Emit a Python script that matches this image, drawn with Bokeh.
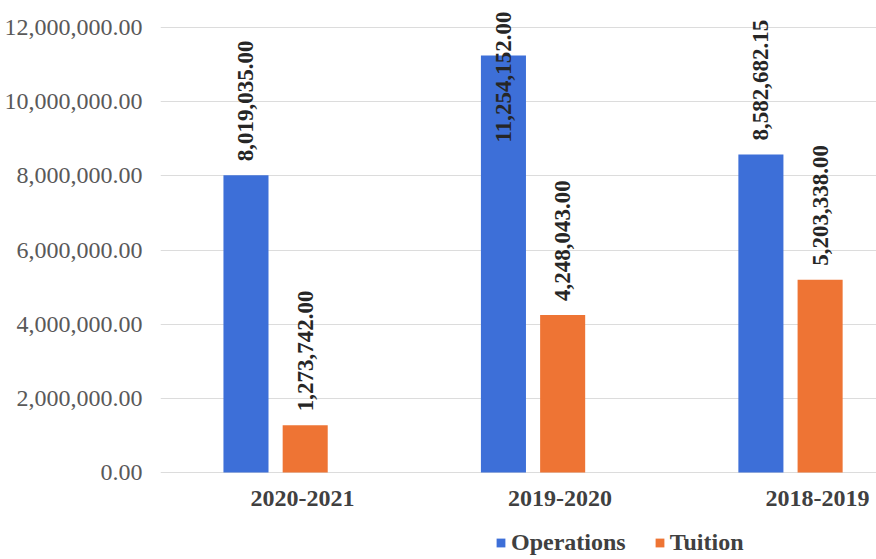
import math
from bokeh.plotting import figure
from bokeh.models import ColumnDataSource, FixedTicker, Legend, LegendItem, NumeralTickFormatter
from bokeh.core.properties import value
from bokeh.embed import file_html
from bokeh.resources import INLINE

categories = ["2020-2021", "2019-2020", "2018-2019"]
operations = [8019035.00, 11254152.00, 8582682.15]
tuition = [1273742.00, 4248043.00, 5203338.00]
series_names = ["Operations", "Tuition"]
colors = ["#3D6FD8", "#EE7434"]
y_ticks = [0, 2000000, 4000000, 6000000, 8000000, 10000000, 12000000]

W, H = 876, 559
top_b, left_b = 5, 160
base_px = 472            # screen y of the zero line
y_end = 12600000
above_h = base_px - top_b
px_per_unit = above_h / y_end
y_start = -(H - base_px) / px_per_unit
label_len_px = 132
gap_px = 14

FONT = "Liberation Serif"

p = figure(width=W, height=H, output_backend="svg", toolbar_location=None,
           x_range=(-0.447, 2.334), y_range=(y_start, y_end),
           min_border_left=left_b, min_border_right=0, min_border_top=top_b,
           min_border_bottom=0)
p.outline_line_color = None
p.background_fill_color = "white"
p.border_fill_color = "white"
p.xaxis.visible = False

idx = list(range(len(categories)))
dodge = 0.115
bw = 0.175

renderers = []
for k, (name, vals, col) in enumerate(zip(series_names, [operations, tuition], colors)):
    xs = [i + (-dodge if k == 0 else dodge) for i in idx]
    labels = ["{:,.2f}".format(v) for v in vals]
    ys, aligns, yoffs = [], [], []
    for v in vals:
        if v * px_per_unit + gap_px + label_len_px > above_h:
            ys.append(y_end); aligns.append("right"); yoffs.append(6)
        else:
            ys.append(v); aligns.append("left"); yoffs.append(-gap_px)
    src = ColumnDataSource(dict(x=xs, top=vals, ly=ys, lab=labels, al=aligns, yo=yoffs))
    r = p.vbar(x="x", top="top", bottom=0, width=bw, source=src, fill_color=col, line_color=None)
    renderers.append(r)
    p.text(x="x", y="ly", text="lab", source=src, angle=math.pi / 2,
           text_align="al", text_baseline="middle", y_offset="yo", x_offset=0,
           text_font=value(FONT), text_font_style="bold", text_font_size="23px",
           text_color="#262626")

# category labels under the groups
cat_src = ColumnDataSource(dict(x=[i + 0.105 for i in idx], y=[0] * len(idx), t=categories))
p.text(x="x", y="y", text="t", source=cat_src, y_offset=26,
       text_align="center", text_baseline="middle",
       text_font=value(FONT), text_font_style="bold", text_font_size="24px",
       text_color="#404040")

# y axis
p.yaxis.ticker = FixedTicker(ticks=y_ticks)
p.yaxis.formatter = NumeralTickFormatter(format="0,0.00")
p.yaxis.axis_line_color = None
p.yaxis.major_tick_line_color = None
p.yaxis.minor_tick_line_color = None
p.yaxis.major_label_text_font = FONT
p.yaxis.major_label_text_font_size = "24px"
p.yaxis.major_label_text_color = "#595959"
p.yaxis.major_label_standoff = 12

p.xgrid.grid_line_color = None
p.ygrid.ticker = FixedTicker(ticks=y_ticks)
p.ygrid.grid_line_color = "#dcdcdc"
p.ygrid.grid_line_width = 1

legend = Legend(items=[LegendItem(label=n, renderers=[r]) for n, r in zip(series_names, renderers)],
                orientation="horizontal", location=(335, 3))
legend.label_text_font = FONT
legend.label_text_font_style = "bold"
legend.label_text_font_size = "24px"
legend.label_text_color = "#404040"
legend.glyph_width = 11
legend.glyph_height = 11
legend.label_standoff = 5
legend.spacing = 28
legend.padding = 0
legend.margin = 0
legend.border_line_color = None
legend.background_fill_alpha = 0
p.add_layout(legend, "center")

open("out.html", "w").write(file_html(p, INLINE))
